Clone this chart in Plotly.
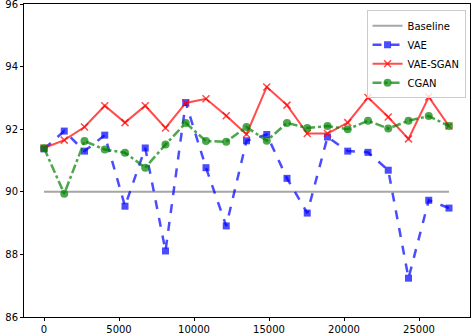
import plotly.graph_objects as go

steps = [i * 1350 for i in range(21)]
vae = [91.37, 91.94, 91.30, 91.81, 89.54, 91.40, 88.11, 92.85, 90.77, 88.91, 91.63,
       91.83, 90.43, 89.32, 91.75, 91.30, 91.26, 90.69, 87.24, 89.73, 89.48]
vae_sgan = [91.40, 91.65, 92.07, 92.75, 92.21, 92.75, 92.04, 92.84, 92.97, 92.43, 91.84,
            93.35, 92.77, 91.86, 91.86, 92.21, 93.01, 92.39, 91.69, 93.03, 92.10]
cgan = [91.40, 89.94, 91.62, 91.35, 91.25, 90.77, 91.51, 92.20, 91.62, 91.60, 92.07,
        91.63, 92.20, 92.04, 92.10, 92.00, 92.27, 92.02, 92.27, 92.42, 92.10]
baseline_x = [0, 27000]
baseline_y = [90, 90]
x_ticks = [0, 5000, 10000, 15000, 20000, 25000]
x_labels = ["0", "5000", "10000", "15000", "20000", "25000"]
y_ticks = [86, 88, 90, 92, 94, 96]
y_labels = ["86", "88", "90", "92", "94", "96"]

fig = go.Figure()
fig.add_trace(go.Scatter(x=baseline_x, y=baseline_y, mode="lines", name="Baseline",
                         line=dict(color="rgba(128,128,128,0.7)", width=2)))
fig.add_trace(go.Scatter(x=steps, y=vae, mode="lines+markers", name="VAE",
                         line=dict(color="rgba(0,0,255,0.7)", width=2.5, dash="dash"),
                         marker=dict(symbol="square", size=7, color="rgba(0,0,255,0.7)")))
fig.add_trace(go.Scatter(x=steps, y=vae_sgan, mode="lines+markers", name="VAE-SGAN",
                         line=dict(color="rgba(255,0,0,0.7)", width=2),
                         marker=dict(symbol="x-thin", size=7,
                                     line=dict(color="rgba(255,0,0,0.7)", width=1.5))))
fig.add_trace(go.Scatter(x=steps, y=cgan, mode="lines+markers", name="CGAN",
                         line=dict(color="rgba(0,128,0,0.7)", width=2.5, dash="dashdot"),
                         marker=dict(symbol="circle", size=8, color="rgba(0,128,0,0.7)")))

axis_common = dict(showgrid=False, zeroline=False, showline=True, linecolor="black",
                   linewidth=1, mirror=True, ticks="outside", ticklen=3, tickcolor="black",
                   automargin=False, ticklabeloverflow="allow",
                   tickfont=dict(family="DejaVu Sans", size=10, color="black"))
fig.update_xaxes(range=[-1333, 28400], tickvals=x_ticks, ticktext=x_labels, **axis_common)
fig.update_yaxes(range=[86, 96], tickvals=y_ticks, ticktext=y_labels, **axis_common)

fig.update_layout(
    width=472, height=334,
    margin=dict(l=24, r=2, t=4, b=17),
    plot_bgcolor="white", paper_bgcolor="white",
    font=dict(family="DejaVu Sans", size=10, color="black"),
    legend=dict(x=0.99, y=0.98, xanchor="right", yanchor="top",
                bgcolor="rgba(255,255,255,0.8)", bordercolor="#cccccc", borderwidth=1,
                font=dict(size=10), itemwidth=30, tracegroupgap=0),
)
fig.write_html("out.html", config={"displayModeBar": False},
               post_script="document.body.style.margin='0';document.body.style.padding='0';")
